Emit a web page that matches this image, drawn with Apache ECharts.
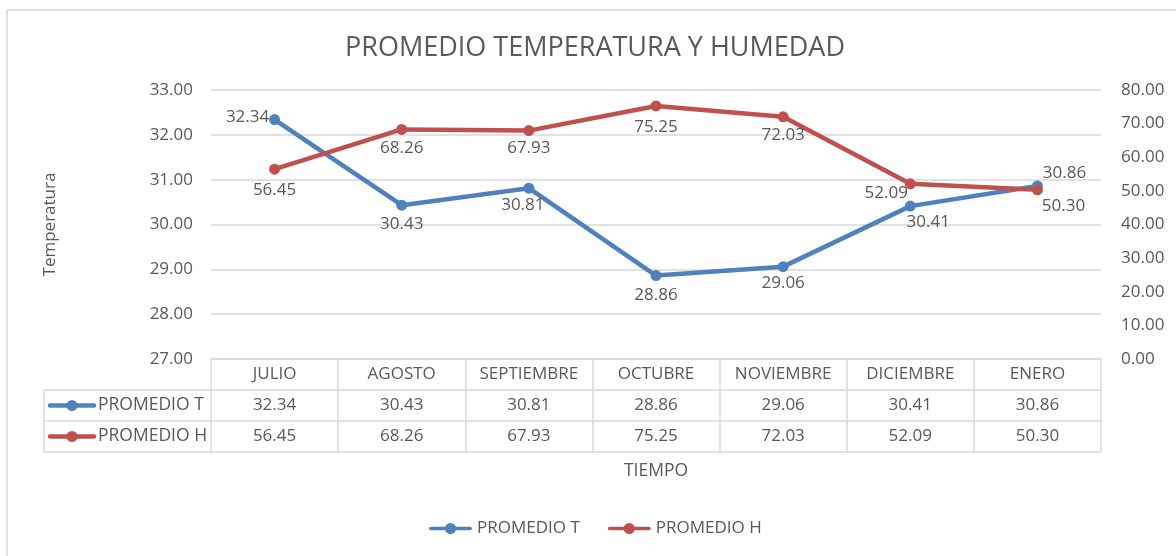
<!DOCTYPE html>
<html>
<head>
<meta charset="utf-8">
<script src="https://cdn.jsdelivr.net/npm/echarts@6/dist/echarts.min.js"></script>
<style>
html,body{margin:0;padding:0;background:#fff;}
#c{width:1176px;height:556px;}
</style>
</head>
<body>
<div id="c"></div>
<script>
const categories = ['JULIO','AGOSTO','SEPTIEMBRE','OCTUBRE','NOVIEMBRE','DICIEMBRE','ENERO'];
const tempValues = [32.34, 30.43, 30.81, 28.86, 29.06, 30.41, 30.86];
const humValues = [56.45, 68.26, 67.93, 75.25, 72.03, 52.09, 50.30];
const seriesNames = ['PROMEDIO T', 'PROMEDIO H'];
const chartTitle = 'PROMEDIO TEMPERATURA Y HUMEDAD';
const leftAxisName = 'Temperatura';
const xAxisName = 'TIEMPO';

// label offsets (styling)
const tempLabelOffsets = [[-27,-2],[0,19],[-6,17],[0,20],[0,17],[18,16],[27,-13]];
const humLabelOffsets = [[0,21],[0,19],[0,18],[0,21],[0,18],[-24,9],[26,16]];

const FONT = '"Open Sans", sans-serif';
const TXT = '#595959';
const GRID_LINE = '#d9d9d9';
const BLUE = '#4f81bd';
const RED = '#c0504d';
const LEGEND_ICON = 'path://M2,4.2 L41,4.2 A1.8,1.8 0 0 1 41,7.8 L2,7.8 A1.8,1.8 0 0 1 2,4.2 Z M21.5,0.5 A5.5,5.5 0 1 1 21.49,0.5 Z';

const chart = echarts.init(document.getElementById('c'), null, {renderer:'canvas'});

const gridLeft = 211, gridRight = 1101, gridTop = 90, gridBottom = 359;
const rowH = 31;

function labelData(values, offs){
  return values.map((v,i)=>({value:v, label:{offset:offs[i]}}));
}

function rowIcon(y, color, name){
  return {
    type:'group',
    children:[
      {type:'line', shape:{x1:50,y1:y,x2:94,y2:y}, style:{stroke:color,lineWidth:4.5,lineCap:'round'}},
      {type:'circle', shape:{cx:72,cy:y,r:5.5}, style:{fill:color}},
      {type:'text', x:98, y:y, style:{text:name, font:'17.5px '+FONT, fill:TXT, textVerticalAlign:'middle', textAlign:'left'}}
    ]
  };
}

const tableLines = [];
[gridBottom+rowH, gridBottom+2*rowH, gridBottom+3*rowH].forEach(y=>{
  tableLines.push({type:'line', shape:{x1:44,y1:y,x2:gridRight,y2:y}, style:{stroke:GRID_LINE,lineWidth:1.5}});
});
tableLines.push({type:'line', shape:{x1:44,y1:gridBottom+rowH,x2:44,y2:gridBottom+3*rowH}, style:{stroke:GRID_LINE,lineWidth:1.5}});

const option = {
  backgroundColor:'#fff',
  animation:false,
  textStyle:{fontFamily:FONT},
  title:{
    text:chartTitle, left:340, top:30,
    textStyle:{fontFamily:FONT, fontSize:27, fontWeight:'normal', color:TXT}
  },
  legend:{
    left:424, top:515, itemWidth:43, itemHeight:12, itemGap:28,
    textStyle:{fontFamily:FONT, fontSize:17, color:TXT},
    data:seriesNames.map(n=>({name:n, icon:LEGEND_ICON}))
  },
  grid:{left:gridLeft, right:1176-gridRight, top:gridTop, bottom:556-gridBottom, containLabel:false},
  xAxis:[
    {
      type:'category', data:categories, boundaryGap:true,
      axisLine:{show:true, lineStyle:{color:GRID_LINE, width:1.5}},
      axisTick:{show:true, interval:0, length:3*rowH, lineStyle:{color:GRID_LINE, width:1.5}},
      axisLabel:{interval:0, margin:15, verticalAlign:'middle', fontFamily:FONT, fontSize:17, color:TXT},
      name:xAxisName, nameLocation:'middle', nameGap:103,
      nameTextStyle:{fontFamily:FONT, fontSize:17.5, color:TXT}
    },
    {
      type:'category', data:tempValues.map(v=>v.toFixed(2)), boundaryGap:true, position:'bottom', offset:rowH,
      axisLine:{show:false}, axisTick:{show:false},
      axisLabel:{interval:0, margin:15, verticalAlign:'middle', fontFamily:FONT, fontSize:17, color:TXT}
    },
    {
      type:'category', data:humValues.map(v=>v.toFixed(2)), boundaryGap:true, position:'bottom', offset:2*rowH,
      axisLine:{show:false}, axisTick:{show:false},
      axisLabel:{interval:0, margin:15, verticalAlign:'middle', fontFamily:FONT, fontSize:17, color:TXT}
    }
  ],
  yAxis:[
    {
      type:'value', min:27, max:33, interval:1, position:'left',
      axisLine:{show:false}, axisTick:{show:false},
      splitLine:{show:true, lineStyle:{color:GRID_LINE, width:1.5}},
      axisLabel:{margin:18, fontFamily:FONT, fontSize:17, color:TXT, formatter:v=>v.toFixed(2)},
      name:leftAxisName, nameLocation:'middle', nameGap:152, nameRotate:90,
      nameTextStyle:{fontFamily:FONT, fontSize:17, color:TXT}
    },
    {
      type:'value', min:0, max:80, interval:10, position:'right',
      axisLine:{show:false}, axisTick:{show:false}, splitLine:{show:false},
      axisLabel:{margin:20, fontFamily:FONT, fontSize:17, color:TXT, formatter:v=>v.toFixed(2)}
    }
  ],
  series:[
    {
      name:seriesNames[0], type:'line', xAxisIndex:0, yAxisIndex:0,
      data:labelData(tempValues, tempLabelOffsets),
      symbol:'circle', symbolSize:11,
      itemStyle:{color:BLUE}, lineStyle:{color:BLUE, width:4.5},
      label:{show:true, position:'inside', color:TXT, fontFamily:FONT, fontSize:17,
        formatter:p=>Number(p.value).toFixed(2)}
    },
    {
      name:seriesNames[1], type:'line', xAxisIndex:0, yAxisIndex:1,
      data:labelData(humValues, humLabelOffsets),
      symbol:'circle', symbolSize:11,
      itemStyle:{color:RED}, lineStyle:{color:RED, width:4.5},
      label:{show:true, position:'inside', color:TXT, fontFamily:FONT, fontSize:17,
        formatter:p=>Number(p.value).toFixed(2)}
    }
  ],
  graphic:[
    {type:'rect', shape:{x:7,y:10,width:1200,height:600}, style:{fill:'none', stroke:GRID_LINE, lineWidth:1.5}, z:-10, silent:true},
    ...tableLines,
    rowIcon(gridBottom+rowH*1.5, BLUE, seriesNames[0]),
    rowIcon(gridBottom+rowH*2.5, RED, seriesNames[1])
  ]
};
chart.setOption(option);
</script>
</body>
</html>
